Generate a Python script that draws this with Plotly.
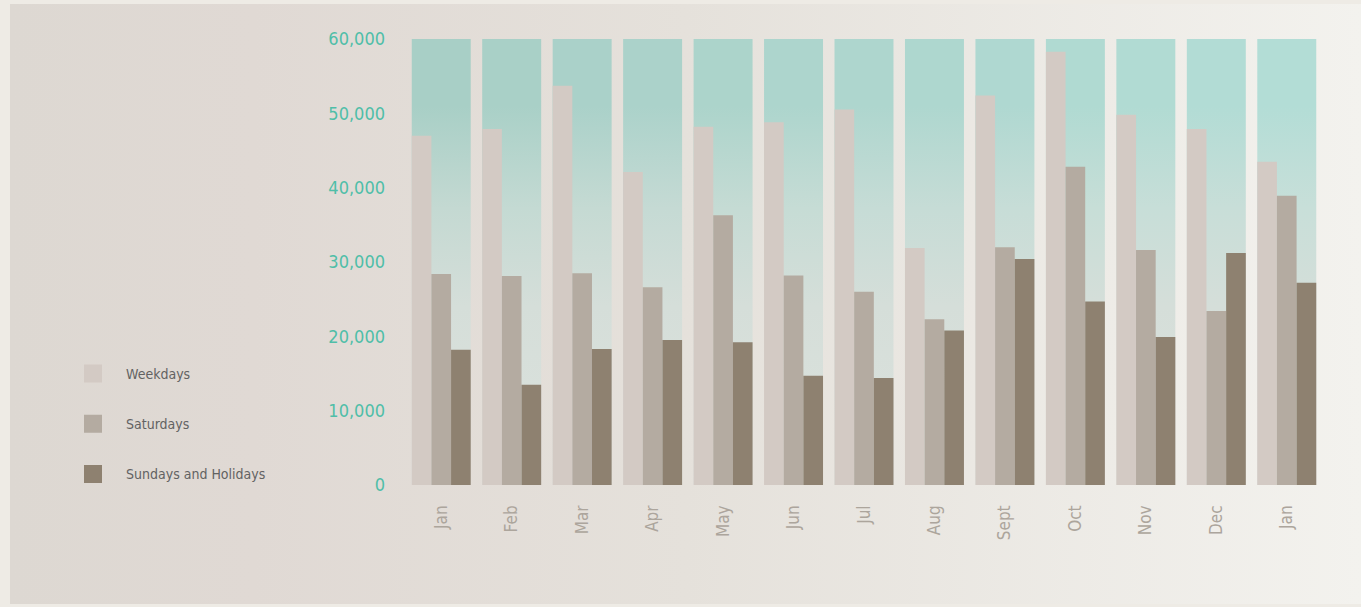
import base64
import plotly.graph_objects as go

# Monthly ridership by day type
months = ["Jan", "Feb", "Mar", "Apr", "May", "Jun", "Jul", "Aug", "Sept", "Oct", "Nov", "Dec", "Jan"]
weekdays = [47000, 47900, 53700, 42100, 48200, 48800, 50500, 31900, 52400, 58300, 49800, 47900, 43500]
saturdays = [28400, 28100, 28500, 26600, 36300, 28200, 26000, 22300, 32000, 42800, 31600, 23400, 38900]
sundays = [18200, 13500, 18300, 19500, 19200, 14700, 14400, 20800, 30400, 24700, 19900, 31200, 27200]

y_ticks = [0, 10000, 20000, 30000, 40000, 50000, 60000]
y_tick_text = ["0", "10,000", "20,000", "30,000", "40,000", "50,000", "60,000"]
Y_MAX = 60000

series = [
    ("Weekdays", weekdays, "#d3cac4"),
    ("Saturdays", saturdays, "#b4aba1"),
    ("Sundays and Holidays", sundays, "#8e8170"),
]

W, H = 1361, 607
ML, MR, MT, MB = 406, 39, 39, 122
PW, PH = W - ML - MR, H - MT - MB

FONT = "DejaVu Sans Condensed, Roboto, sans-serif"

GROUP = 0.837          # width of one month's column (axis units)
BAR = GROUP / 3
idx = list(range(len(months)))
X_RANGE = [-0.5, len(months) - 0.5]

fig = go.Figure()


def lerp(c1, c2, t):
    a = [int(c1[i:i + 2], 16) for i in (1, 3, 5)]
    b = [int(c2[i:i + 2], 16) for i in (1, 3, 5)]
    return "#" + "".join(f"{round(a[k] + (b[k] - a[k]) * t):02x}" for k in range(3))


# teal column behind each month's bars (base axes, drawn underneath)
for i in idx:
    t = i / (len(idx) - 1)
    top = lerp("#a8cfc6", "#b3ddd6", t)
    mid = lerp("#c4d9d2", "#c8dfd9", t)
    fig.add_trace(go.Scatter(
        x=[i - GROUP / 2, i + GROUP / 2, i + GROUP / 2, i - GROUP / 2, i - GROUP / 2],
        y=[0, 0, Y_MAX, Y_MAX, 0],
        mode="none", fill="toself",
        fillgradient=dict(type="vertical", start=0, stop=Y_MAX,
                          colorscale=[[0, "#dce2dd"], [0.4, "#d5ded9"],
                                      [0.62, mid], [0.85, top], [1, top]]),
        showlegend=False, hoverinfo="skip", xaxis="x", yaxis="y",
    ))

# grouped bars on an overlaid subplot so they sit above the columns
offsets = [-GROUP / 2, -GROUP / 2 + BAR, -GROUP / 2 + 2 * BAR]
for (name, vals, color), off in zip(series, offsets):
    fig.add_trace(go.Bar(
        x=idx, y=vals, width=BAR, offset=off, name=name,
        marker=dict(color=color, line=dict(width=0)),
        showlegend=False, xaxis="x2", yaxis="y2",
    ))

# legend entries
for k, (name, vals, color) in enumerate(series):
    fig.add_trace(go.Scatter(
        x=[None], y=[None], mode="markers", name=name, legendgroup=f"g{k}",
        marker=dict(symbol="square", size=16, color=color, line=dict(color=color, width=2)),
        xaxis="x2", yaxis="y2",
    ))

# soft horizontal gradient panel behind the chart
svg = (
    '<svg xmlns="http://www.w3.org/2000/svg" viewBox="0 0 100 100" preserveAspectRatio="none">'
    '<defs><linearGradient id="g" x1="0" x2="1" y1="0" y2="0">'
    '<stop offset="0" stop-color="#ddd8d2"/>'
    '<stop offset="0.18" stop-color="#e0d9d4"/>'
    '<stop offset="0.5" stop-color="#e5e1db"/>'
    '<stop offset="1" stop-color="#f3f2ee"/>'
    '</linearGradient></defs><rect width="100" height="100" fill="url(#g)"/></svg>'
)
src = "data:image/svg+xml;base64," + base64.b64encode(svg.encode()).decode()


def px_x(px):
    return (px - ML) / PW


def px_y(py):
    return (H - MB - py) / PH


fig.add_layout_image(dict(
    source=src, xref="paper", yref="paper",
    x=px_x(10), y=px_y(4), sizex=(W - 10) / PW, sizey=600 / PH,
    xanchor="left", yanchor="top", sizing="stretch", layer="below",
))

hidden = dict(showgrid=False, zeroline=False, showline=False, ticks="", showticklabels=False)

fig.update_layout(
    width=W, height=H,
    margin=dict(l=ML, r=MR, t=MT, b=MB, pad=0),
    paper_bgcolor="#eeebe5",
    plot_bgcolor="rgba(0,0,0,0)",
    barmode="overlay",
    showlegend=True,
    legend=dict(
        x=px_x(60), y=px_y(358), xanchor="left", yanchor="top",
        bgcolor="rgba(0,0,0,0)", tracegroupgap=29, traceorder="grouped",
        font=dict(family=FONT, size=14, color="#626262"),
        itemwidth=56,
    ),
    xaxis=dict(
        range=X_RANGE, tickmode="array", tickvals=idx, ticktext=months,
        tickangle=-90, showgrid=False, zeroline=False, showline=False, ticks="",
        ticklabelstandoff=16,
        tickfont=dict(family=FONT, size=17, color="#aca59c"),
    ),
    yaxis=dict(
        range=[0, Y_MAX], tickmode="array", tickvals=y_ticks, ticktext=y_tick_text,
        showgrid=False, zeroline=False, showline=False, ticks="",
        ticklabelstandoff=20,
        tickfont=dict(family=FONT, size=18, color="#4fbea8"),
    ),
    xaxis2=dict(range=X_RANGE, overlaying="x", matches="x", **hidden),
    yaxis2=dict(range=[0, Y_MAX], overlaying="y", **hidden),
)

fig.write_html("out.html")
